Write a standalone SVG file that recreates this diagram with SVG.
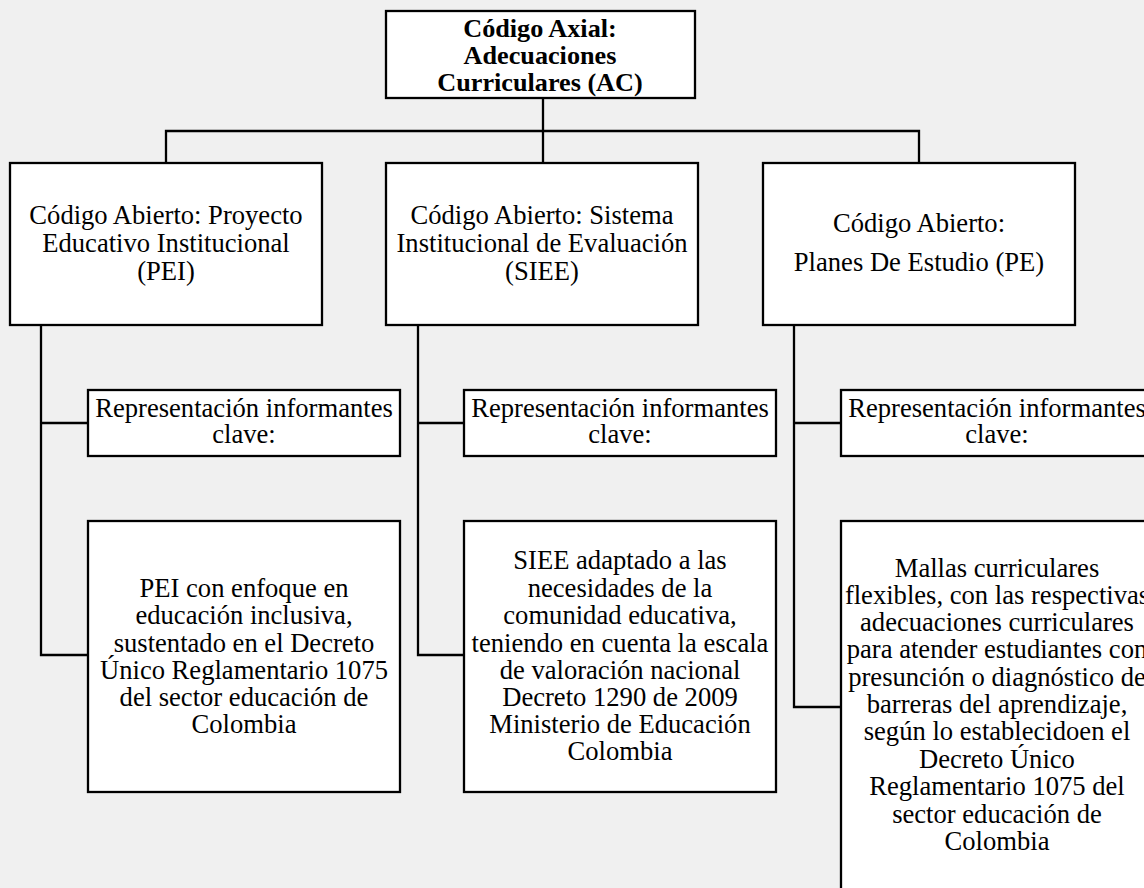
<svg xmlns="http://www.w3.org/2000/svg" width="1144" height="888" viewBox="0 0 1144 888">
<style>
.bg{fill:#f0f0f0}
.box{fill:#ffffff;stroke:#000000;stroke-width:2.3}
.ln{fill:none;stroke:#000000;stroke-width:2.3}
text{font-family:"Liberation Serif","Times New Roman",serif;font-size:26.6px;fill:#000000;text-anchor:middle}
.b{font-weight:bold;font-size:26.2px}
</style>
<rect class="bg" x="0" y="0" width="1144" height="888"/>
<g id="connectors">
<path class="ln" d="M543,98 V163 M166,163 V131 H919 V163"/>
<path class="ln" d="M41,325 V655 H88 M41,423 H88"/>
<path class="ln" d="M418,325 V655 H464 M418,423 H464"/>
<path class="ln" d="M794,325 V707 H841 M794,423 H841"/>
</g>
<g id="axial">
<rect class="box" x="386" y="11" width="309" height="87"/>
<text class="b" x="540" y="37">Código Axial:</text>
<text class="b" x="540" y="64">Adecuaciones</text>
<text class="b" x="540" y="91">Curriculares (AC)</text>
</g>
<g id="pei">
<rect class="box" x="10" y="163" width="312" height="162"/>
<text x="166" y="224">Código Abierto: Proyecto</text>
<text x="166" y="252">Educativo Institucional</text>
<text x="166" y="280">(PEI)</text>
</g>
<g id="siee">
<rect class="box" x="386" y="163" width="312" height="162"/>
<text x="542" y="224">Código Abierto: Sistema</text>
<text x="542" y="252">Institucional de Evaluación</text>
<text x="542" y="280">(SIEE)</text>
</g>
<g id="pe">
<rect class="box" x="763" y="163" width="312" height="162"/>
<text x="919" y="232">Código Abierto:</text>
<text x="919" y="271">Planes De Estudio (PE)</text>
</g>
<g id="rep1">
<rect class="box" x="88" y="390" width="312" height="66"/>
<text x="244" y="417">Representación informantes</text>
<text x="244" y="443">clave:</text>
</g>
<g id="rep2">
<rect class="box" x="464" y="390" width="312" height="66"/>
<text x="620" y="417">Representación informantes</text>
<text x="620" y="443">clave:</text>
</g>
<g id="rep3">
<rect class="box" x="841" y="390" width="312" height="66"/>
<text x="997" y="417">Representación informantes</text>
<text x="997" y="443">clave:</text>
</g>
<g id="desc1">
<rect class="box" x="88" y="521" width="312" height="271"/>
<text x="244" y="597">PEI con enfoque en</text>
<text x="244" y="624">educación inclusiva,</text>
<text x="244" y="652">sustentado en el Decreto</text>
<text x="244" y="679">Único Reglamentario 1075</text>
<text x="244" y="706">del sector educación de</text>
<text x="244" y="733">Colombia</text>
</g>
<g id="desc2">
<rect class="box" x="464" y="521" width="312" height="271"/>
<text x="620" y="569">SIEE adaptado a las</text>
<text x="620" y="597">necesidades de la</text>
<text x="620" y="624">comunidad educativa,</text>
<text x="620" y="652">teniendo en cuenta la escala</text>
<text x="620" y="679">de valoración nacional</text>
<text x="620" y="706">Decreto 1290 de 2009</text>
<text x="620" y="733">Ministerio de Educación</text>
<text x="620" y="760">Colombia</text>
</g>
<g id="desc3">
<rect class="box" x="841" y="521" width="312" height="390"/>
<text x="997" y="577">Mallas curriculares</text>
<text x="997" y="604">flexibles, con las respectivas</text>
<text x="997" y="631">adecuaciones curriculares</text>
<text x="997" y="658">para atender estudiantes con</text>
<text x="997" y="686">presunción o diagnóstico de</text>
<text x="997" y="713">barreras del aprendizaje,</text>
<text x="997" y="740">según lo establecidoen el</text>
<text x="997" y="768">Decreto Único</text>
<text x="997" y="795">Reglamentario 1075 del</text>
<text x="997" y="823">sector educación de</text>
<text x="997" y="850">Colombia</text>
</g>
</svg>
